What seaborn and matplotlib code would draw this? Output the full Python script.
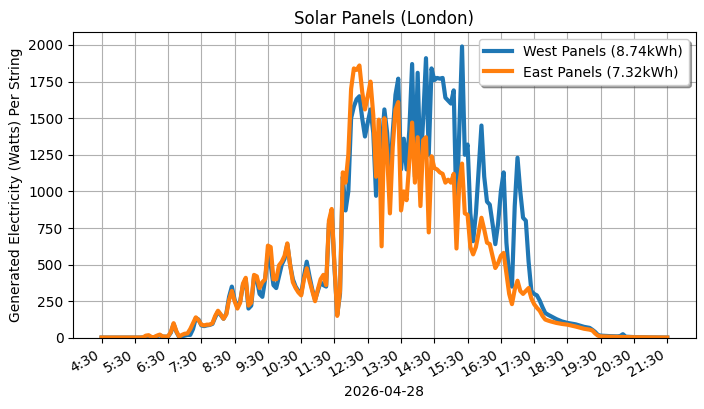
import pandas as pd
import matplotlib
matplotlib.use("Agg")
import matplotlib.pyplot as plt
import matplotlib.dates as mdates
import seaborn as sns

# — Dados (2026-04-28) —
dia = "2026-04-28"
horas = [
    "4:30", "5:00", "5:30", "5:40", "5:45", "5:50", "5:55",
    "6:00", "6:05", "6:10", "6:15", "6:20", "6:25", "6:30", "6:35", "6:40", "6:45", "6:50", "6:55",
    "7:00", "7:05", "7:10", "7:15", "7:20", "7:25", "7:30", "7:35", "7:40", "7:45", "7:50", "7:55",
    "8:00", "8:05", "8:10", "8:15", "8:20", "8:25", "8:30", "8:35", "8:40", "8:45", "8:50", "8:55",
    "9:00", "9:05", "9:10", "9:15", "9:20", "9:25", "9:30", "9:35", "9:40", "9:45", "9:50", "9:55",
    "10:00", "10:05", "10:10", "10:15", "10:20", "10:25", "10:30", "10:35", "10:40", "10:45", "10:50", "10:55",
    "11:00", "11:05", "11:10", "11:15", "11:20", "11:25", "11:30", "11:35", "11:40", "11:45", "11:50", "11:55",
    "12:00", "12:05", "12:10", "12:15", "12:20", "12:25", "12:30", "12:35", "12:40", "12:45", "12:50", "12:55",
    "13:00", "13:05", "13:10", "13:15", "13:20", "13:25", "13:30", "13:35", "13:40", "13:45", "13:50", "13:55",
    "14:00", "14:05", "14:10", "14:15", "14:20", "14:25", "14:30", "14:35", "14:40", "14:45", "14:50", "14:55",
    "15:00", "15:05", "15:10", "15:15", "15:20", "15:25", "15:30", "15:35", "15:40", "15:45", "15:50", "15:55",
    "16:00", "16:05", "16:10", "16:15", "16:20", "16:25", "16:30", "16:35", "16:40", "16:45", "16:50", "16:55",
    "17:00", "17:05", "17:10", "17:15", "17:20", "17:25", "17:30", "17:35", "17:40", "17:45", "17:50", "17:55",
    "18:00", "18:10", "18:20", "18:30", "18:45", "19:00", "19:10", "19:15", "19:20", "19:25", "19:30",
    "19:45", "20:00", "20:05", "20:10", "20:15", "20:30", "21:00", "21:30",
]

oeste = [
    2, 2, 2, 2, 3, 10, 12,
    5, 5, 10, 18, 8, 8, 8, 35, 95, 40, 5, 10,
    15, 20, 20, 60, 135, 125, 85, 80, 85, 88, 95, 140,
    180, 155, 130, 165, 280, 350, 260, 210, 250, 360, 400, 200,
    220, 420, 400, 300, 280, 400, 575, 500, 360, 340, 420, 500,
    540, 640, 500, 400, 350, 320, 300, 420, 520, 420, 330, 260,
    320, 380, 360, 350, 780, 860, 480, 160, 300, 1100, 870, 1000,
    1500, 1580, 1630, 1650, 1500, 1375, 1470, 1560, 1400, 970, 1300, 1300,
    1560, 1400, 1080, 1400, 1660, 1770, 1150, 1360, 1150, 1420, 1870, 1100,
    1810, 1150, 1500, 1910, 1250, 1840, 1760, 1775, 1770, 1775, 1640, 1620,
    1600, 1690, 830, 1420, 1990, 1250, 1320, 850, 660, 850, 1150, 1450,
    1100, 930, 910, 780, 640, 780, 1000, 1130, 650, 420, 350, 900,
    1230, 1000, 820, 800, 520, 320, 300, 290, 255, 210, 170, 158,
    148, 128, 112, 102, 92, 75, 68, 55, 40, 20, 15,
    12, 10, 12, 25, 8, 5, 3, 2,
]

leste = [
    2, 2, 2, 2, 3, 15, 18,
    5, 5, 15, 22, 10, 8, 10, 40, 100, 45, 8, 20,
    28, 30, 60, 100, 140, 120, 90, 85, 90, 90, 100, 150,
    185, 160, 130, 160, 260, 320, 250, 200, 240, 370, 410, 220,
    240, 430, 420, 340, 380, 400, 630, 620, 400, 400, 495, 520,
    560, 645, 500, 380, 340, 310, 290, 400, 475, 390, 320, 250,
    330, 400, 430, 360, 800, 880, 500, 150, 320, 1130, 1060, 1250,
    1700, 1840, 1830, 1860, 1680, 1560, 1650, 1750, 1520, 1100, 1490, 625,
    1500, 1250, 850, 1300, 1560, 1610, 870, 1000, 940, 1200, 1470, 1060,
    1370, 900, 1350, 1370, 720, 1240, 1160, 1150, 1130, 1120, 1060, 1080,
    1060, 1120, 610, 1050, 1190, 850, 840, 620, 570, 620, 720, 820,
    740, 650, 640, 560, 477, 510, 560, 580, 440, 300, 230, 330,
    390, 320, 300, 320, 340, 270, 230, 205, 185, 150, 125, 118,
    112, 102, 95, 90, 77, 62, 56, 50, 30, 15, 10,
    8, 6, 6, 6, 5, 4, 3, 2,
]

df = pd.DataFrame({
    "hora": pd.to_datetime([f"{dia} {h}" for h in horas]),
    "West Panels (8.74kWh)": oeste,
    "East Panels (7.32kWh)": leste,
})

# — Gráfico —
fig, ax = plt.subplots(figsize=(7.04, 4.09), dpi=100)
sns.lineplot(data=df, x="hora", y="West Panels (8.74kWh)", ax=ax,
             color="tab:blue", linewidth=3, label="West Panels (8.74kWh)")
sns.lineplot(data=df, x="hora", y="East Panels (7.32kWh)", ax=ax,
             color="tab:orange", linewidth=3, label="East Panels (7.32kWh)")

ax.xaxis.set_major_locator(mdates.MinuteLocator(byminute=30))
ax.xaxis.set_major_formatter(mdates.DateFormatter("%-H:%M"))
ax.set_ylim(bottom=0)
ax.set_title("Solar Panels (London)")
ax.set_xlabel(dia)
ax.set_ylabel("Generated Electricity (Watts) Per String")
ax.grid(True)
ax.legend(loc="upper right", shadow=True)
plt.setp(ax.get_xticklabels(), rotation=30, ha="right")
fig.subplots_adjust(left=0.104, right=0.988, top=0.922, bottom=0.174)
fig.savefig("out.png", dpi=100)
